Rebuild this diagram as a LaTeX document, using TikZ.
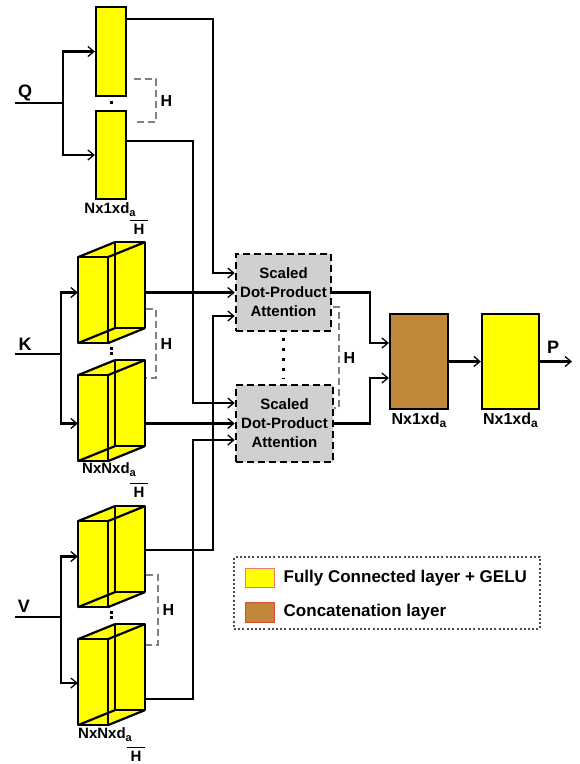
\documentclass[tikz,border=0pt]{standalone}
\usepackage{fontspec}
\setmainfont{Liberation Sans}
\usetikzlibrary{arrows.meta,calc,positioning}

\definecolor{fcyellow}{RGB}{255,255,0}
\definecolor{concatbrown}{RGB}{192,134,58}
\definecolor{attngray}{RGB}{208,208,208}
\definecolor{swatchfc}{RGB}{240,120,110}
\definecolor{swatchcat}{RGB}{220,80,50}

\newcommand\subsc[2][11]{\raisebox{-3pt}{\fontsize{#1}{#1}\selectfont #2}}

\tikzset{
  conn/.style={line width=2.5pt},
  fc box/.style={draw, line width=2.2pt, fill=fcyellow, minimum width=30pt, inner sep=0pt},
  cube frame/.style={minimum width=67pt, minimum height=101pt, inner sep=0pt},
  cube edge/.style={line width=2.2pt, line join=round},
  attn box/.style={
    draw, line width=2.5pt, dash pattern=on 7pt off 4pt, fill=attngray,
    minimum width=95pt, minimum height=77pt, inner sep=0pt,
    align=center, font=\bfseries\fontsize{15}{19}\selectfont,
  },
  concat box/.style={draw, line width=2.2pt, fill=concatbrown, minimum width=58pt, minimum height=95pt, inner sep=0pt},
  head dots/.style={line width=3pt, dash pattern=on 3pt off 2pt, shorten <=4pt, shorten >=4pt},
  h brace/.style={draw=gray, line width=1.3pt, dash pattern=on 7pt off 4pt},
  h label/.style={text=black, inner sep=1pt, font=\bfseries\fontsize{16}{16}\selectfont},
  io label/.style={inner sep=0pt, font=\bfseries\fontsize{18}{18}\selectfont},
  dim label/.style={inner sep=1pt, font=\bfseries\fontsize{15}{15}\selectfont},
  dim den/.style={minimum width=17pt, inner xsep=0pt, inner ysep=3pt, font=\bfseries\fontsize{15}{15}\selectfont},
  frac bar/.style={line width=1.3pt},
  legend frame/.style={draw=black!70, line width=2pt, dash pattern=on 2pt off 2.2pt, minimum width=306pt, minimum height=72pt},
  swatch/.style={line width=1pt, minimum width=29pt, minimum height=19.5pt, inner sep=0pt},
  legend text/.style={inner sep=0pt, font=\bfseries\fontsize{17}{17}\selectfont},
}

% yellow cuboid: front face lower left, back face upper right, all edges shown
\newcommand\fccube[3]{%
  \node[cube frame] (#1) at (#2,#3) {};
  \fill[fcyellow] (#1.south west) -- ++(0,-86) -- ++(37,-15) -- (#1.north east)
    -- ++(0,86) -- ++(-37,15) -- cycle;
  \draw[cube edge] (#1.south west) rectangle ++(30,-86)
    (#1.north east) rectangle ++(-30,86);
  \draw[cube edge] (#1.south west) -- ++(37,-15)
    ($(#1.south west)+(0,-86)$) -- ++(37,-15)
    ($(#1.south west)+(30,-86)$) -- ++(37,-15)
    ($(#1.south west)+(30,0)$) -- ++(37,-15);
}

\begin{document}
\begin{tikzpicture}[
  x=1pt, y=-1pt,
  >={Straight Barb[length=6pt,width=10pt,line width=1.3pt]},
]
\useasboundingbox (0,0) rectangle (580,764);

% heads
\node[fc box, minimum height=89pt] (q1) at (111,51.5) {};
\node[fc box, minimum height=88pt] (q2) at (111,155) {};
\fccube{k1}{111.5}{292.5}
\fccube{k2}{111.5}{410.5}
\fccube{v1}{111.5}{556.5}
\fccube{v2}{111.5}{674.5}

\node[attn box] (att1) at (283.5,292.5) {Scaled\\Dot-Product\\Attention};
\node[attn box, minimum width=97pt] (att2) at (284.5,423.5) {Scaled\\Dot-Product\\Attention};
\node[concat box] (concat) at (419,361.5) {};
\node[fc box, minimum width=57pt, minimum height=95pt] (fcout) at (510.5,361.5) {};

\coordinate (qin) at (15,103);
\coordinate (qsplit) at (63,103);
\coordinate (kin) at (15,354);
\coordinate (ksplit) at (61,354);
\coordinate (vin) at (15,617);
\coordinate (vsplit) at (61,617);
\coordinate (busa) at (213,0);
\coordinate (busb) at (193,0);
\coordinate (merge) at (370,0);
\coordinate (pout) at (572,361.5);

\coordinate (q1o) at ($(q1.east)+(0,-32.5)$);
\coordinate (q2o) at ($(q2.east)+(0,-14)$);
\coordinate (v1o) at ($(v1.east)+(0,-6.5)$);
\coordinate (v2o) at ($(v2.east)+(0,24.5)$);

% inputs
\node[io label] (qlab) at (25,93) {Q};
\node[io label] (klab) at (25,344) {K};
\node[io label] (vlab) at (24,606) {V};
\draw[conn] (qin) -- (qsplit);
\draw[conn,->] (qsplit) |- (q1.west);
\draw[conn,->] (qsplit) |- (q2.west);
\draw[conn] (kin) -- (ksplit);
\draw[conn,->] (ksplit) |- (k1.west);
\draw[conn,->] (ksplit) |- (k2.west |- att2.west);
\draw[conn] (vin) -- (vsplit);
\draw[conn,->] (vsplit) |- (v1.west);
\draw[conn,->] (vsplit) |- ($(v2.west)+(0,8.5)$);

% heads to attention
\draw[conn,->] (q1o) -- (q1o -| busa) |- ($(att1.west)+(0,-19.5)$);
\draw[conn,->] (q2o) -- (q2o -| busb) |- ($(att2.west)+(0,-20.5)$);
\draw[conn,->] (k1.east) -- (att1.west);
\draw[conn,->] (k2.east |- att2.west) -- (att2.west);
\draw[conn,->] (v1o) -- (v1o -| busa) |- ($(att1.west)+(0,23.5)$);
\draw[conn,->] (v2o) -- (v2o -| busb) |- ($(att2.west)+(0,16.5)$);

% attention to output
\draw[conn,->] (att1.east) -- (att1.east -| merge) |- ($(concat.west)+(0,-18.5)$);
\draw[conn,->] (att2.east) -- (att2.east -| merge) |- ($(concat.west)+(0,16.5)$);
\draw[conn,->] (concat) -- (fcout);
\draw[conn,->] (fcout) -- (pout);
\node[io label] (plab) at (553,347) {P};

% repeated heads
\draw[head dots] (q1.south) -- (q2.north);
\draw[head dots] (k1.south) -- (k2.north);
\draw[head dots] (v1.south) -- (v2.north);
\draw[head dots, dash pattern=on 3pt off 7pt, shorten <=5.5pt, shorten >=5.5pt]
  (att1.south) -- (att1.south |- att2.north);
\draw[h brace] (134,79) -- (156,79) -- node[h label, right=3pt] (qh) {H} (156,122) -- (134,122);
\draw[h brace] (146,309) -- (156,309) -- node[h label, right=3pt] (kh) {H} (156,378) -- (146,378);
\draw[h brace] (146,575) -- (158,575) -- node[h label, right=3pt] (vh) {H} (158,645) -- (146,645);
\draw[h brace] (333,307) -- (339,307) -- node[h label, right=3pt] (atth) {H} (339,408) -- (334,408);

% sizes
\node[dim label] (qdim) at (110,210) {Nx1xd\subsc{a}};
\node[dim den] (qden) at (139,229) {H};
\draw[frac bar] (qden.north west) -- (qden.north east);
\node[dim label] (kdim) at (109,470) {NxNxd\subsc{a}};
\node[dim den] (kden) at (139,492) {H};
\draw[frac bar] (kden.north west) -- (kden.north east);
\node[dim label] (vdim) at (105,735) {NxNxd\subsc{a}};
\node[dim den] (vden) at (136,756) {H};
\draw[frac bar] (vden.north west) -- (vden.north east);
\node[dim label, font=\bfseries\fontsize{16}{16}\selectfont, below=2pt of concat] (catdim) {Nx1xd\subsc[12]{a}};
\node[dim label, font=\bfseries\fontsize{16}{16}\selectfont, below=2pt of fcout] (fcdim) {Nx1xd\subsc[12]{a}};

% legend
\node[legend frame] (legend) at (387,593) {};
\node[swatch, fill=fcyellow, draw=swatchfc] (swfc) at (259.5,578) {};
\node[swatch, fill=concatbrown, draw=swatchcat] (swcat) at (259.5,612.5) {};
\node[legend text, right=9pt of swfc] (txfc) {Fully Connected layer + GELU};
\node[legend text, right=9pt of swcat] (txcat) {Concatenation layer};
\end{tikzpicture}
\end{document}
